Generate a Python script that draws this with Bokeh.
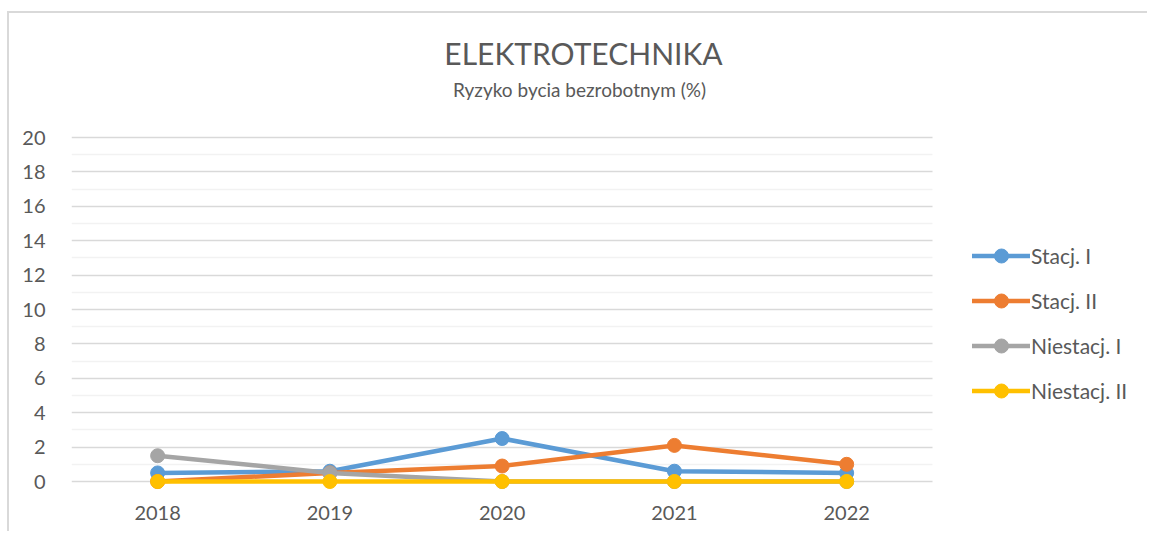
from bokeh.plotting import figure
from bokeh.models import Legend, LegendItem, Label, FixedTicker, Range1d
from bokeh.embed import file_html
from bokeh.resources import INLINE

years = ["2018", "2019", "2020", "2021", "2022"]
stacj_1 = [0.5, 0.6, 2.5, 0.6, 0.5]
stacj_2 = [0.0, 0.5, 0.9, 2.1, 1.0]
niestacj_1 = [1.5, 0.5, 0.0, 0.0, 0.0]
niestacj_2 = [0.0, 0.0, 0.0, 0.0, 0.0]
series_names = ["Stacj. I", "Stacj. II", "Niestacj. I", "Niestacj. II"]
series_values = [stacj_1, stacj_2, niestacj_1, niestacj_2]
colors = ["#5B9BD5", "#ED7D31", "#A5A5A5", "#FFC000"]
y_ticks = [0, 2, 4, 6, 8, 10, 12, 14, 16, 18, 20]
y_minor_ticks = [1, 3, 5, 7, 9, 11, 13, 15, 17, 19]

title_text = "ELEKTROTECHNIKA"
subtitle_text = "Ryzyko bycia bezrobotnym (%)"

FONT = "Lato"
TXT = "#595959"

xs = list(range(len(years)))

# frame spans the title area and the legend area; grid is bounded to the plot area
p = figure(width=1140, height=520, x_range=Range1d(-0.5, 5.758), y_range=Range1d(-0.58, 27.21),
           output_backend="svg", toolbar_location=None,
           min_border_left=62, min_border_right=0, min_border_top=0, min_border_bottom=42)
p.styles = {"border-top": "2px solid #d9d9d9", "border-left": "2px solid #d9d9d9",
            "margin-left": "7px", "margin-top": "11px"}
p.outline_line_color = None
p.background_fill_color = "white"
p.border_fill_color = "white"

p.yaxis.ticker = FixedTicker(ticks=y_ticks, minor_ticks=y_minor_ticks)
p.xaxis.ticker = FixedTicker(ticks=xs)
p.xaxis.major_label_overrides = {i: y for i, y in zip(xs, years)}
for ax in (p.xaxis[0], p.yaxis[0]):
    ax.axis_line_color = None
    ax.major_tick_line_color = None
    ax.minor_tick_line_color = None
    ax.major_label_text_font = FONT
    ax.major_label_text_font_size = "20px"
    ax.major_label_text_color = TXT
p.yaxis.major_label_standoff = 20
p.xaxis.major_label_standoff = 8

p.xgrid.grid_line_color = None
p.ygrid.grid_line_color = "#D9D9D9"
p.ygrid.grid_line_width = 1.5
p.ygrid.minor_grid_line_color = "#F2F2F2"
p.ygrid.minor_grid_line_width = 1.5
p.ygrid.cross_bounds = (-0.5, len(years) - 0.5)

items = []
for name, vals, c in zip(series_names, series_values, colors):
    r1 = p.line(xs, vals, line_color=c, line_width=4.5, line_cap="round", line_join="round")
    r2 = p.scatter(xs, vals, marker="circle", size=14, fill_color=c, line_color=c)
    items.append(LegendItem(label=name, renderers=[r1, r2]))

legend = Legend(items=items, location=(901, 83), padding=0, margin=0,
                border_line_color=None, background_fill_alpha=0,
                glyph_width=58, glyph_height=35, label_height=35, spacing=10,
                label_standoff=1, label_text_font=FONT, label_text_font_size="21px",
                label_text_color=TXT)
p.add_layout(legend, "center")

p.add_layout(Label(x=512, y=439, x_units="screen", y_units="screen", text=title_text,
                   text_font=FONT, text_font_size="30px", text_color=TXT,
                   text_align="center", text_baseline="middle"))
p.add_layout(Label(x=508, y=402, x_units="screen", y_units="screen", text=subtitle_text,
                   text_font=FONT, text_font_size="19px", text_color=TXT,
                   text_align="center", text_baseline="middle"))

open("out.html", "w").write(file_html(p, INLINE))
